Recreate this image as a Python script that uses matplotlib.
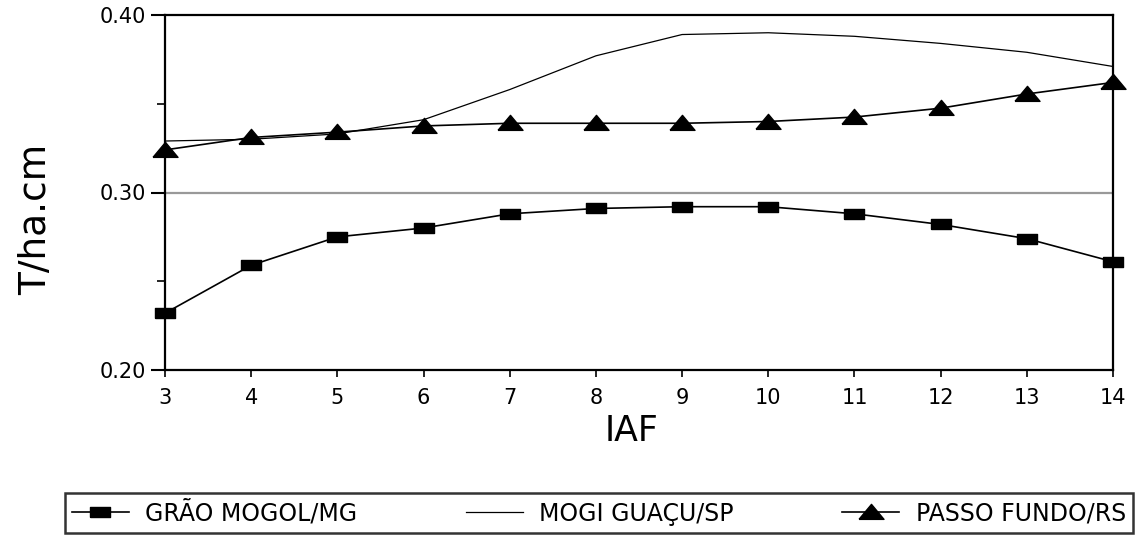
import matplotlib
matplotlib.use("Agg")
import matplotlib.pyplot as plt
from matplotlib.ticker import MultipleLocator

# IAF values
iaf = [3, 4, 5, 6, 7, 8, 9, 10, 11, 12, 13, 14]

# T/ha.cm per site
grao_mogol = [0.232, 0.259, 0.275, 0.280, 0.288, 0.291, 0.292, 0.292, 0.288, 0.282, 0.274, 0.261]
mogi_guacu = [0.329, 0.330, 0.333, 0.341, 0.358, 0.377, 0.389, 0.390, 0.388, 0.384, 0.379, 0.371]
passo_fundo = [0.324, 0.331, 0.334, 0.3375, 0.339, 0.339, 0.339, 0.340, 0.3425, 0.3475, 0.3555, 0.362]

labels = ["GRÃO MOGOL/MG", "MOGI GUAÇU/SP", "PASSO FUNDO/RS"]

rect = [(-1, -0.55), (1, -0.55), (1, 0.55), (-1, 0.55), (-1, -0.55)]
tri = [(-1, -0.55), (1, -0.55), (0, 0.65), (-1, -0.55)]

fig = plt.figure(figsize=(11.43, 5.36), dpi=100)
ax = fig.add_axes([165 / 1143, 166 / 536, 948 / 1143, 355 / 536])

ax.axhline(0.30, color="#999999", lw=1.6, zorder=1)

ax.plot(iaf, grao_mogol, color="black", lw=1.2, marker=rect, ms=14,
        label=labels[0], zorder=3, clip_on=False)
ax.plot(iaf, mogi_guacu, color="black", lw=0.9, label=labels[1], zorder=3)
ax.plot(iaf, passo_fundo, color="black", lw=1.2, marker=tri, ms=18,
        label=labels[2], zorder=3, clip_on=False)

ax.set_xlim(3, 14)
ax.set_ylim(0.20, 0.40)
ax.set_xticks(iaf)
ax.set_yticks([0.20, 0.30, 0.40])
ax.set_yticklabels(["0.20", "0.30", "0.40"])
ax.yaxis.set_minor_locator(MultipleLocator(0.05))

for s in ax.spines.values():
    s.set_linewidth(1.6)
    s.set_color("black")

ax.tick_params(axis="y", which="major", direction="out", length=10, width=1.5, labelsize=15, pad=4)
ax.tick_params(axis="y", which="minor", direction="out", length=6, width=1.2)
ax.tick_params(axis="x", direction="out", length=5, width=1.2, labelsize=15, pad=8)

ax.set_ylabel("T/ha.cm", fontsize=27)
ax.yaxis.set_label_coords(-0.117, 0.423)
ax.set_xlabel("IAF", fontsize=25)
ax.xaxis.set_label_coords(0.492, -0.125)

leg = fig.legend(loc="center", ncol=3, mode="expand",
                 bbox_to_anchor=(65 / 1143, 3 / 536, 1068 / 1143, 40 / 536),
                 fontsize=17, frameon=True, fancybox=False, edgecolor="black",
                 handlelength=2.4, handletextpad=0.7,
                 borderpad=0.3, borderaxespad=0)
leg.get_frame().set_linewidth(1.8)

fig.savefig("out.png", dpi=100)
